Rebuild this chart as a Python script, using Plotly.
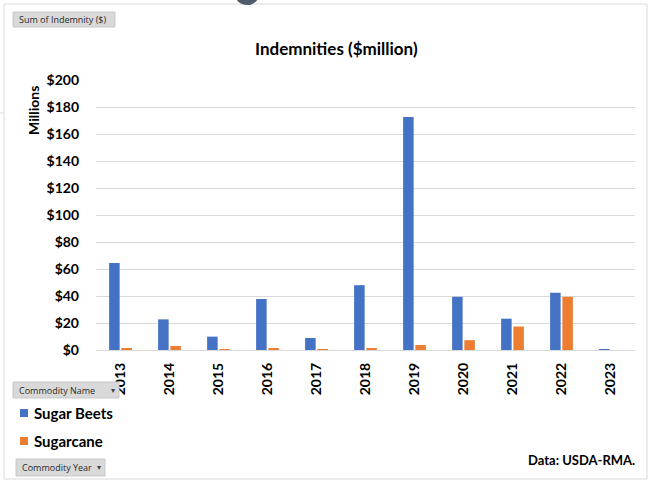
import plotly.graph_objects as go

years = [str(y) for y in range(2013, 2024)]
sugar_beets = [64.4, 22.7, 9.9, 37.8, 8.9, 48.0, 172.6, 39.4, 23.2, 42.4, 0.6]
sugarcane = [1.3, 3.0, 0.5, 1.0, 0.5, 1.5, 3.7, 7.3, 17.4, 39.4, 0.0]
series_names = ["Sugar Beets", "Sugarcane"]
colors = ["#4472C4", "#ED7D31"]
y_ticks = list(range(0, 201, 20))

W, H = 649, 482
L, R, T, B = 96, 14, 80, 132
PW = W - L - R
PH = H - T - B


def px(x):
    return (x - L) / PW


def py(y):
    return (H - B - y) / PH


FONT = "Lato"

fig = go.Figure()
for name, vals, c in zip(series_names, [sugar_beets, sugarcane], colors):
    fig.add_trace(go.Bar(x=years, y=vals, name=name, marker_color=c,
                         marker_line_width=0, showlegend=False, hoverinfo="skip"))

fig.update_layout(
    width=W, height=H,
    margin=dict(l=L, r=R, t=T, b=B, pad=0),
    paper_bgcolor="white", plot_bgcolor="white",
    barmode="group", bargap=0.5, bargroupgap=0.14,
    font=dict(family=FONT, color="#000000"),
    xaxis=dict(type="category", tickangle=-90, showgrid=False, ticks="",
               tickvals=years, ticktext=[f"<b>{y}</b>" for y in years],
               tickfont=dict(family=FONT, size=14, color="#000"),
               ticklabelstandoff=9, showline=False, zeroline=False),
    yaxis=dict(range=[0, 200], tickvals=y_ticks,
               ticktext=[f"<b>${v}</b>" for v in y_ticks],
               showgrid=True, gridcolor="#D9D9D9", gridwidth=1,
               zeroline=True, zerolinecolor="#D9D9D9", zerolinewidth=1,
               showline=False, ticks="",
               tickfont=dict(family=FONT, size=14, color="#000"),
               ticklabelstandoff=16),
)

shapes = []
annotations = []

# chart area border
shapes.append(dict(type="rect", xref="paper", yref="paper",
                   x0=px(4), x1=px(647), y0=py(479), y1=py(4),
                   line=dict(color="#DADADA", width=1), fillcolor="rgba(0,0,0,0)", layer="below"))
shapes.append(dict(type="line", xref="paper", yref="paper",
                   x0=px(0), x1=px(4), y0=py(113), y1=py(113),
                   line=dict(color="#DADADA", width=1)))
# partial dark circle at top edge
shapes.append(dict(type="circle", xref="paper", yref="paper",
                   x0=px(234), x1=px(260), y0=py(5), y1=py(-21),
                   line=dict(width=0), fillcolor="#4E5D6C"))


def button(x0, y0, x1, y1, text, arrow):
    shapes.append(dict(type="rect", xref="paper", yref="paper",
                       x0=px(x0), x1=px(x1), y0=py(y1), y1=py(y0),
                       line=dict(color="#C8C8C8", width=1), fillcolor="#D9D9D9"))
    annotations.append(dict(xref="paper", yref="paper", x=px(x0 + 4), y=py((y0 + y1) / 2),
                            text=text, showarrow=False, xanchor="left", yanchor="middle",
                            font=dict(family="Open Sans", size=9, color="#2A2A2A")))
    if arrow:
        annotations.append(dict(xref="paper", yref="paper", x=px(x1 - 6), y=py((y0 + y1) / 2),
                                text="▾", showarrow=False, xanchor="center", yanchor="middle",
                                font=dict(family="DejaVu Sans", size=8, color="#444444")))


button(13, 12, 115, 27, "Sum of Indemnity ($)", False)
button(13, 382, 119, 398, "Commodity Name", True)
button(16, 459, 105, 476, "Commodity Year", True)

# legend (manual, to match the small square keys)
for i, (name, c) in enumerate(zip(series_names, colors)):
    cy = 413 + 28 * i
    shapes.append(dict(type="rect", xref="paper", yref="paper",
                       x0=px(20), x1=px(28), y0=py(cy + 4), y1=py(cy - 4),
                       line=dict(width=0), fillcolor=c))
    annotations.append(dict(xref="paper", yref="paper", x=px(32), y=py(cy),
                            text=f"<b>{name}</b>", showarrow=False, xanchor="left", yanchor="middle",
                            font=dict(family=FONT, size=15, color="#000")))

# title
annotations.append(dict(xref="paper", yref="paper", x=px(336), y=py(49),
                        text="<b>Indemnities ($million)</b>", showarrow=False,
                        xanchor="center", yanchor="middle",
                        font=dict(family=FONT, size=17, color="#000")))
# display unit label
annotations.append(dict(xref="paper", yref="paper", x=px(33), y=py(111),
                        text="<b>Millions</b>", showarrow=False, textangle=-90,
                        xanchor="center", yanchor="middle",
                        font=dict(family=FONT, size=14, color="#000")))
# source
annotations.append(dict(xref="paper", yref="paper", x=px(637), y=py(460),
                        text="<b>Data: USDA-RMA.</b>", showarrow=False,
                        xanchor="right", yanchor="middle",
                        font=dict(family=FONT, size=13, color="#000")))

fig.update_layout(shapes=shapes, annotations=annotations)

fig.write_html("out.html", config={"displayModeBar": False})
